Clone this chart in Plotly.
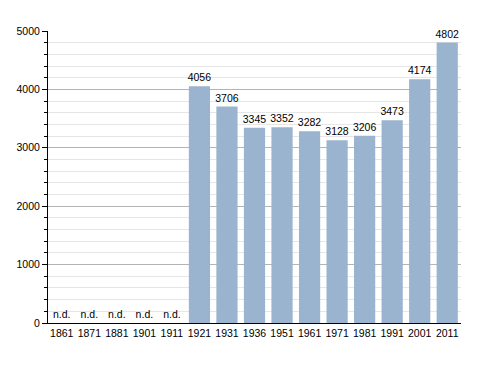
import plotly.graph_objects as go

years = ["1861", "1871", "1881", "1901", "1911", "1921", "1931", "1936",
         "1951", "1961", "1971", "1981", "1991", "2001", "2011"]
population = [None, None, None, None, None, 4056, 3706, 3345,
              3352, 3282, 3128, 3206, 3473, 4174, 4802]

bar_vals = [v if v is not None else 0 for v in population]
labels = [str(v) if v is not None else "n.d." for v in population]

fig = go.Figure()
fig.add_trace(go.Bar(
    x=years, y=bar_vals, text=labels, textposition="outside",
    cliponaxis=False, constraintext="none",
    textfont=dict(family="Liberation Sans, Arial", size=10.5, color="#000"),
    marker=dict(color="#9AB3CE", line=dict(width=0)),
    width=0.77,
))

fig.update_layout(
    width=488, height=373,
    margin=dict(l=40, r=35, t=23, b=58),
    paper_bgcolor="white", plot_bgcolor="white",
    showlegend=False,
    font=dict(family="Liberation Sans, Arial", size=10.5, color="#000"),
    xaxis=dict(type="category", showline=True, linecolor="#000", linewidth=1,
               ticks="", showgrid=False, automargin=False),
    yaxis=dict(range=[0, 5000], dtick=1000, showgrid=True, gridcolor="#b4b4b4",
               gridwidth=1, showline=True, linecolor="#000", linewidth=1,
               ticks="outside", ticklen=5, tickcolor="#000",
               zeroline=False, automargin=False,
               minor=dict(dtick=200, showgrid=True, gridcolor="#e6e6e6",
                          ticks="outside", ticklen=3, tickcolor="#000")),
    bargap=0.23,
)

fig.write_html("out.html")
